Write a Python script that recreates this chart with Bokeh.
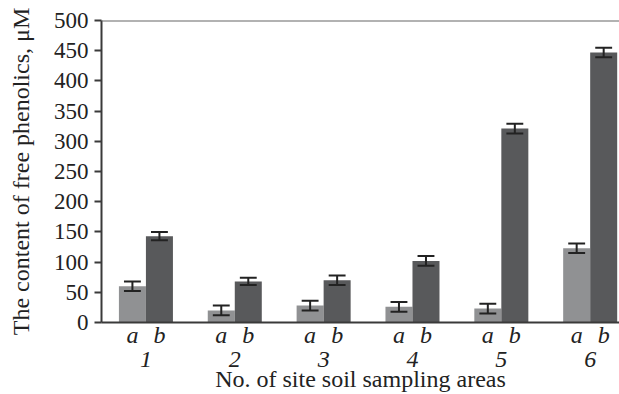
from bokeh.plotting import figure
from bokeh.models import LinearAxis, FixedTicker, Range1d, Span
from bokeh.embed import file_html
from bokeh.resources import INLINE

groups = [1, 2, 3, 4, 5, 6]
group_labels = ["1", "2", "3", "4", "5", "6"]
series_labels = ["a", "b"]
values_a = [60, 20, 28, 26, 23, 123]
values_b = [143, 68, 70, 102, 321, 447]
err_a = [8, 8, 8, 8, 8, 8]
err_b = [7, 6, 8, 8, 8, 8]
y_ticks = [0, 50, 100, 150, 200, 250, 300, 350, 400, 450, 500]
x_title = "No. of site soil sampling areas"
y_title = "The content of free phenolics, μM"

off = 0.152
bw = 0.304
cap = 0.095
col_a = "#909193"
col_b = "#58595b"
axis_col = "#3a3a3a"
serif = "Liberation Serif"

p = figure(width=619, height=394, output_backend="svg", toolbar_location=None,
           x_range=Range1d(0.5, 6.33), y_range=Range1d(0, 500),
           min_border_left=101, min_border_right=0, min_border_top=20, min_border_bottom=72,
           x_axis_location=None, y_axis_location=None)
p.outline_line_color = None
p.grid.visible = False
p.background_fill_color = "white"

xa = [g - off for g in groups]
xb = [g + off for g in groups]
p.vbar(x=xa, top=values_a, width=bw, fill_color=col_a, line_color=None)
p.vbar(x=xb, top=values_b, width=bw, fill_color=col_b, line_color=None)

for xs, vs, es in ((xa, values_a, err_a), (xb, values_b, err_b)):
    lo = [v - e for v, e in zip(vs, es)]
    hi = [v + e for v, e in zip(vs, es)]
    p.segment(x0=xs, y0=lo, x1=xs, y1=hi, line_color="#222222", line_width=2)
    p.segment(x0=[x - cap for x in xs], y0=lo, x1=[x + cap for x in xs], y1=lo,
              line_color="#222222", line_width=2)
    p.segment(x0=[x - cap for x in xs], y0=hi, x1=[x + cap for x in xs], y1=hi,
              line_color="#222222", line_width=2)

p.add_layout(Span(location=500, dimension="width", line_color="#666666", line_width=2))

# y axis
ya = LinearAxis(ticker=FixedTicker(ticks=y_ticks), axis_label=y_title)
ya.axis_line_color = axis_col
ya.axis_line_width = 2
ya.major_tick_line_color = axis_col
ya.major_tick_line_width = 2
ya.major_tick_out = 7
ya.major_tick_in = 0
ya.minor_tick_line_color = None
ya.major_label_standoff = 6
ya.major_label_text_font = serif
ya.major_label_text_font_size = "23px"
ya.major_label_text_color = "#222222"
ya.axis_label_text_font = serif
ya.axis_label_text_font_size = "24px"
ya.axis_label_text_font_style = "normal"
ya.axis_label_text_color = "#222222"
ya.axis_label_standoff = 17
p.add_layout(ya, "left")

# x axis 1: series letters
ab_ticks = []
ab_over = {}
for g in groups:
    ab_ticks += [g - off, g + off]
    ab_over[g - off] = series_labels[0]
    ab_over[g + off] = series_labels[1]
xa1 = LinearAxis(ticker=FixedTicker(ticks=ab_ticks), major_label_overrides=ab_over)
xa1.axis_line_color = axis_col
xa1.axis_line_width = 2
xa1.major_tick_line_color = None
xa1.minor_tick_line_color = None
xa1.major_label_standoff = -7
xa1.major_label_text_font = serif
xa1.major_label_text_font_style = "italic"
xa1.major_label_text_font_size = "24px"
xa1.major_label_text_color = "#222222"
p.add_layout(xa1, "below")

# x axis 2: group numbers and title
num_over = {g: lab for g, lab in zip(groups, group_labels)}
xa2 = LinearAxis(ticker=FixedTicker(ticks=groups), major_label_overrides=num_over,
                 axis_label=x_title)
xa2.axis_line_color = None
xa2.major_tick_line_color = None
xa2.minor_tick_line_color = None
xa2.major_label_standoff = -5
xa2.major_label_text_font = serif
xa2.major_label_text_font_style = "italic"
xa2.major_label_text_font_size = "24px"
xa2.major_label_text_color = "#222222"
xa2.axis_label_text_font = serif
xa2.axis_label_text_font_size = "24px"
xa2.axis_label_text_font_style = "normal"
xa2.axis_label_text_color = "#222222"
xa2.axis_label_standoff = -4
p.add_layout(xa2, "below")

open("out.html", "w").write(file_html(p, INLINE))
